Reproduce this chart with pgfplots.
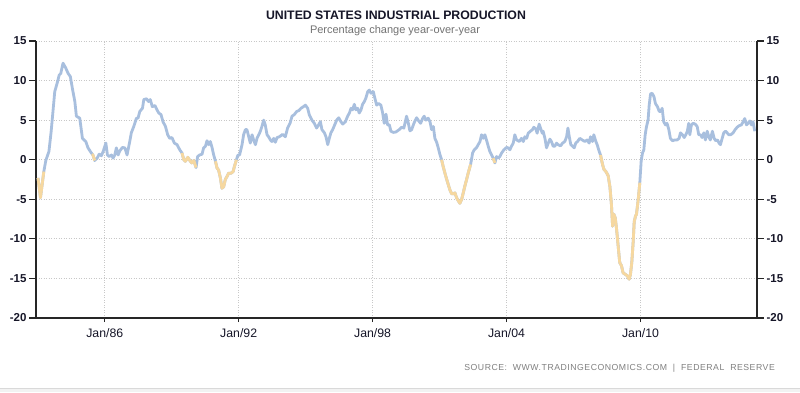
\documentclass[border=0pt]{standalone}
\usepackage{fontspec}
\setmainfont{Liberation Sans}
\usepackage{pgfplots}
\pgfplotsset{compat=1.18}
\definecolor{lineblue}{RGB}{168,191,222}
\definecolor{lineorange}{RGB}{246,216,160}
\definecolor{titlecol}{RGB}{22,22,40}
\definecolor{gridcol}{RGB}{200,200,200}
\begin{document}
\begin{tikzpicture}
\path[use as bounding box, fill=white] (0,0) rectangle (800pt,392pt);
\fill[gray!10] (0,0) rectangle (800pt,4pt);
\draw[gray!30, line width=0.8pt] (0,4pt) -- (800pt,4pt);
\node[font=\bfseries\fontsize{12.3}{14}\selectfont, text=titlecol] at (396pt,377pt) {UNITED STATES INDUSTRIAL PRODUCTION};
\node[font=\fontsize{11}{13}\selectfont, text=black!55] at (395pt,361pt) {Percentage change year-over-year};
\node[anchor=east, inner sep=0pt, font=\fontsize{8.7}{10}\selectfont\addfontfeature{LetterSpace=6}, text=black!50] at (775pt,24pt) {SOURCE:\ \ WWW.TRADINGECONOMICS.COM\ \ |\ \ FEDERAL\ \ RESERVE};
\begin{axis}[
  at={(36pt,74pt)}, anchor=south west,
  scale only axis, width=721pt, height=277pt,
  xmin=1982.92, xmax=2015.22, ymin=-20, ymax=15,
  axis x line=bottom, axis y line=left,
  axis line style={-, line width=1.6pt, draw=black!85},
  xtick={1986,1992,1998,2004,2010},
  xticklabels={Jan/86,Jan/92,Jan/98,Jan/04,Jan/10},
  ytick={-20,-15,-10,-5,0,5,10,15},
  yticklabels={-20,-15,-10,-5,0,5,10,15},
  tick align=outside,
  major tick length=7pt,
  xtick style={/pgfplots/major tick length=4pt, line width=1.2pt, draw=black!85},
  ytick style={line width=1.2pt, draw=black!85},
  grid=major,
  major grid style={draw=gridcol, line width=0.8pt, dash pattern=on 1pt off 1.5pt},
  yticklabel style={font=\bfseries\fontsize{11.5}{13}\selectfont, text=titlecol, xshift=1pt},
  xticklabel style={font=\fontsize{12.3}{14}\selectfont, text=titlecol},
  clip=false,
]
\addplot[lineblue, line width=2.8pt, line join=round] coordinates {
(1983.01,-2.3)(1983.12,-4.8)(1983.27,-1.5)(1983.36,-0.1)(1983.5,1.05)(1983.6,3.6)(1983.76,8.6)(1983.87,9.7)(1983.96,10.7)(1984.03,10.9)(1984.13,12.2)(1984.25,11.6)(1984.36,10.9)(1984.46,10.5)(1984.55,9.0)(1984.66,7.35)(1984.73,5.5)(1984.88,5.25)(1985.0,2.7)(1985.15,2.3)(1985.25,1.5)(1985.4,0.85)(1985.47,0.6)(1985.55,-0.1)(1985.66,0.2)(1985.75,0.7)(1985.85,0.5)(1985.93,1.05)(1986.05,2.1)(1986.12,0.6)(1986.2,0.4)(1986.3,0.6)(1986.37,0.2)(1986.45,0.6)(1986.52,1.5)(1986.6,0.6)(1986.67,1.1)(1986.79,1.55)(1986.9,1.5)(1987.0,0.6)(1987.12,2.3)(1987.19,3.4)(1987.3,4.2)(1987.42,5.25)(1987.49,5.25)(1987.57,6.1)(1987.69,6.5)(1987.75,7.6)(1987.87,7.7)(1987.96,7.35)(1988.04,7.6)(1988.13,6.7)(1988.25,6.85)(1988.34,6.3)
(1988.42,5.9)(1988.52,5.7)(1988.61,4.8)(1988.72,4.2)(1988.82,3.15)(1988.91,2.7)(1989.01,2.8)(1989.12,2.1)(1989.24,1.9)(1989.36,1.25)(1989.46,0.85)(1989.54,0)(1989.61,-0.2)(1989.72,0.3)(1989.81,-0.1)(1989.9,-0.4)(1989.99,-0.1)(1990.09,-1.0)(1990.16,0.4)(1990.25,0.6)(1990.36,0.7)(1990.43,1.5)(1990.51,1.7)(1990.58,2.4)(1990.66,1.9)(1990.73,2.3)(1990.81,1.5)(1990.88,0.6)(1990.96,-0.2)(1991.03,-1.05)(1991.1,-1.3)(1991.18,-2.3)(1991.25,-3.6)(1991.33,-3.4)(1991.4,-2.5)(1991.48,-2.1)(1991.55,-1.7)(1991.66,-1.7)(1991.75,-1.5)(1991.81,-0.85)(1991.9,0)(1991.96,0.55)(1992.04,0.6)(1992.15,1.9)(1992.22,3.15)(1992.3,3.8)(1992.37,3.8)(1992.45,2.9)(1992.52,2.1)(1992.6,3.15)(1992.67,2.5)(1992.75,1.9)(1992.82,2.7)(1992.9,3.15)(1992.97,3.6)(1993.04,4.2)(1993.12,5.0)(1993.19,4.4)(1993.27,3.15)(1993.34,2.9)(1993.42,2.5)(1993.49,2.3)(1993.57,2.7)(1993.64,2.2)(1993.72,2.8)
(1993.82,2.9)(1993.97,3.2)(1994.09,2.9)(1994.19,4.0)(1994.3,4.6)(1994.39,5.5)(1994.49,5.7)(1994.6,6.1)(1994.69,6.2)(1994.79,6.5)(1994.9,6.7)(1994.99,6.9)(1995.09,6.5)(1995.16,5.7)(1995.28,5.0)(1995.39,4.6)(1995.49,4.0)(1995.58,4.4)(1995.66,4.8)(1995.73,3.8)(1995.84,3.4)(1995.91,2.9)(1995.99,1.9)(1996.06,2.7)(1996.13,3.4)(1996.21,3.8)(1996.3,4.4)(1996.39,5.0)(1996.48,5.3)(1996.58,4.8)(1996.66,4.5)(1996.78,4.8)(1996.88,5.5)(1996.96,5.9)(1997.03,6.5)(1997.1,6.3)(1997.18,7.0)(1997.25,6.3)(1997.33,6.5)(1997.4,5.9)(1997.48,6.3)(1997.55,7.0)(1997.63,7.35)(1997.7,7.8)(1997.78,8.6)(1997.85,8.8)(1997.93,8.4)(1998.03,8.6)(1998.1,7.8)(1998.18,6.9)(1998.27,7.1)(1998.37,6.9)(1998.45,5.9)(1998.52,4.6)(1998.6,5.75)(1998.67,4.4)(1998.75,4.4)(1998.82,3.6)(1998.93,3.45)(1999.04,3.5)
(1999.19,3.8)(1999.3,4.1)(1999.4,4.0)(1999.52,5.5)(1999.6,4.6)(1999.67,3.65)(1999.75,3.8)(1999.85,4.6)(1999.97,5.3)(2000.04,5.0)(2000.15,4.6)(2000.24,5.2)(2000.31,5.5)(2000.39,5.0)(2000.49,5.25)(2000.57,4.8)(2000.64,3.8)(2000.72,4.2)(2000.79,2.7)(2000.87,2.2)(2000.94,1.5)(2001.01,0.7)(2001.09,0)(2001.16,-0.85)(2001.24,-1.7)(2001.31,-2.4)(2001.39,-3.15)(2001.46,-3.8)(2001.54,-4.3)(2001.61,-4.3)(2001.69,-4.2)(2001.76,-4.8)(2001.84,-5.2)(2001.91,-5.5)(2001.99,-5.0)(2002.06,-4.2)(2002.13,-3.35)(2002.21,-2.5)(2002.28,-1.7)(2002.39,-0.6)(2002.48,0.85)(2002.55,1.25)(2002.66,1.55)(2002.73,1.9)(2002.81,2.3)(2002.88,3.15)(2002.96,2.7)(2003.03,3.15)(2003.1,2.5)(2003.18,1.7)(2003.25,1.05)(2003.33,0.6)(2003.4,0.2)(2003.48,-0.4)(2003.55,0.4)(2003.63,0.2)(2003.7,0.4)(2003.78,0.85)(2003.88,1.25)(2004.0,1.55)(2004.07,1.5)(2004.15,1.25)(2004.22,1.7)(2004.3,2.1)(2004.37,3.15)(2004.45,2.5)
(2004.57,2.3)(2004.67,2.7)(2004.75,2.3)(2004.82,2.9)(2004.9,2.7)(2004.97,3.35)(2005.07,3.6)(2005.16,3.8)(2005.22,4.1)(2005.31,3.9)(2005.37,3.35)(2005.46,4.5)(2005.52,4.0)(2005.6,3.35)(2005.64,3.6)(2005.72,2.7)(2005.79,1.5)(2005.87,2.1)(2005.94,2.6)(2006.01,2.3)(2006.09,1.7)(2006.16,1.7)(2006.24,2.1)(2006.31,1.9)(2006.42,1.75)(2006.51,2.1)(2006.61,2.3)(2006.69,2.9)(2006.75,4.0)(2006.81,2.9)(2006.88,1.9)(2006.96,1.7)(2007.03,1.5)(2007.1,2.1)(2007.18,2.3)(2007.28,2.7)(2007.39,2.5)(2007.51,2.3)(2007.61,2.5)(2007.7,2.1)(2007.76,2.9)(2007.85,2.3)(2007.91,3.15)(2008.0,2.3)(2008.06,1.9)(2008.15,1.05)(2008.21,0.6)(2008.3,-0.6)(2008.36,-1.2)(2008.45,-1.5)(2008.55,-2.0)(2008.63,-3.4)(2008.7,-5.7)(2008.75,-8.4)(2008.81,-6.9)(2008.87,-7.35)(2008.93,-8.8)(2009.0,-10.9)(2009.07,-13.0)(2009.15,-13.4)(2009.22,-14.3)(2009.33,-14.5)(2009.42,-14.7)(2009.49,-15.1)(2009.55,-14.5)(2009.61,-13.0)(2009.67,-10.5)(2009.72,-7.8)(2009.78,-7.1)(2009.82,-6.9)(2009.9,-5.0)(2009.97,-2.9)
(2010.03,-0.2)(2010.09,0.85)(2010.15,1.25)(2010.21,3.15)(2010.27,4.2)(2010.34,5.0)(2010.39,6.9)(2010.45,8.3)(2010.52,8.4)(2010.6,8.0)(2010.67,7.1)(2010.76,6.7)(2010.84,6.1)(2010.91,6.1)(2010.97,6.5)(2011.04,4.8)(2011.12,4.4)(2011.19,4.6)(2011.27,3.8)(2011.34,2.7)(2011.43,2.4)(2011.54,2.5)(2011.64,2.5)(2011.73,2.7)(2011.79,3.4)(2011.88,3.15)(2011.96,2.8)(2012.03,3.15)(2012.1,3.6)(2012.16,4.6)(2012.21,3.15)(2012.28,4.4)(2012.36,4.6)(2012.45,4.5)(2012.54,4.2)(2012.61,3.15)(2012.69,3.15)(2012.76,2.8)(2012.84,3.4)(2012.91,2.5)(2012.99,3.6)(2013.06,2.9)(2013.13,2.5)(2013.22,3.6)(2013.3,2.7)(2013.37,2.4)(2013.45,2.5)(2013.52,2.1)(2013.58,1.9)(2013.66,2.7)(2013.73,3.4)(2013.81,3.6)(2013.88,3.4)(2013.96,3.15)(2014.04,3.15)(2014.15,3.4)(2014.24,3.8)(2014.33,4.1)(2014.42,4.3)(2014.52,4.4)(2014.6,4.8)(2014.67,5.2)(2014.75,4.4)(2014.82,4.6)(2014.9,4.9)(2014.97,4.4)(2015.04,4.8)(2015.12,3.6)
};
\addplot[lineorange, line width=2.8pt, line join=round] coordinates {(1983.01,-2.3)(1983.12,-4.8)(1983.27,-1.5)};
\addplot[lineorange, line width=2.8pt, line join=round] coordinates {(1985.43,0.72)(1985.47,0.6)(1985.55,-0.1)};
\addplot[lineorange, line width=2.8pt, line join=round] coordinates {(1989.46,0.85)(1989.54,0)(1989.61,-0.2)(1989.72,0.3)(1989.81,-0.1)(1989.9,-0.4)(1989.99,-0.1)(1990.09,-1.0)};
\addplot[lineorange, line width=2.8pt, line join=round] coordinates {(1990.96,-0.2)(1991.03,-1.05)(1991.1,-1.3)(1991.18,-2.3)(1991.25,-3.6)(1991.33,-3.4)(1991.4,-2.5)(1991.48,-2.1)(1991.55,-1.7)(1991.66,-1.7)(1991.75,-1.5)(1991.81,-0.85)(1991.9,0)};
\addplot[lineorange, line width=2.8pt, line join=round] coordinates {(2001.09,0)(2001.16,-0.85)(2001.24,-1.7)(2001.31,-2.4)(2001.39,-3.15)(2001.46,-3.8)(2001.54,-4.3)(2001.61,-4.3)(2001.69,-4.2)(2001.76,-4.8)(2001.84,-5.2)(2001.91,-5.5)(2001.99,-5.0)(2002.06,-4.2)(2002.13,-3.35)(2002.21,-2.5)(2002.28,-1.7)(2002.39,-0.6)};
\addplot[lineorange, line width=2.8pt, line join=round] coordinates {(2003.4,0.2)(2003.48,-0.4)};
\addplot[lineorange, line width=2.8pt, line join=round] coordinates {(2008.21,0.6)(2008.3,-0.6)(2008.36,-1.2)(2008.45,-1.5)(2008.55,-2.0)(2008.63,-3.4)(2008.7,-5.7)(2008.75,-8.4)(2008.81,-6.9)(2008.87,-7.35)(2008.93,-8.8)(2009.0,-10.9)(2009.07,-13.0)(2009.15,-13.4)(2009.22,-14.3)(2009.33,-14.5)(2009.42,-14.7)(2009.49,-15.1)(2009.55,-14.5)(2009.61,-13.0)(2009.67,-10.5)(2009.72,-7.8)(2009.78,-7.1)(2009.82,-6.9)(2009.9,-5.0)(2009.97,-2.9)};
\end{axis}
\begin{axis}[
  at={(36pt,74pt)}, anchor=south west,
  scale only axis, width=721pt, height=277pt,
  xmin=1982.92, xmax=2015.22, ymin=-20, ymax=15,
  axis x line=none, axis y line=right,
  axis line style={-, line width=1.6pt, draw=black!85},
  ytick={-20,-15,-10,-5,0,5,10,15},
  yticklabels={-20,-15,-10,-5,0,5,10,15},
  tick align=outside,
  major tick length=7pt,
  ytick style={line width=1.2pt, draw=black!85},
  yticklabel style={font=\bfseries\fontsize{11.5}{13}\selectfont, text=titlecol, xshift=-1pt},
]
\addplot[draw=none] coordinates {(1990,0)};
\end{axis}
\end{tikzpicture}
\end{document}
